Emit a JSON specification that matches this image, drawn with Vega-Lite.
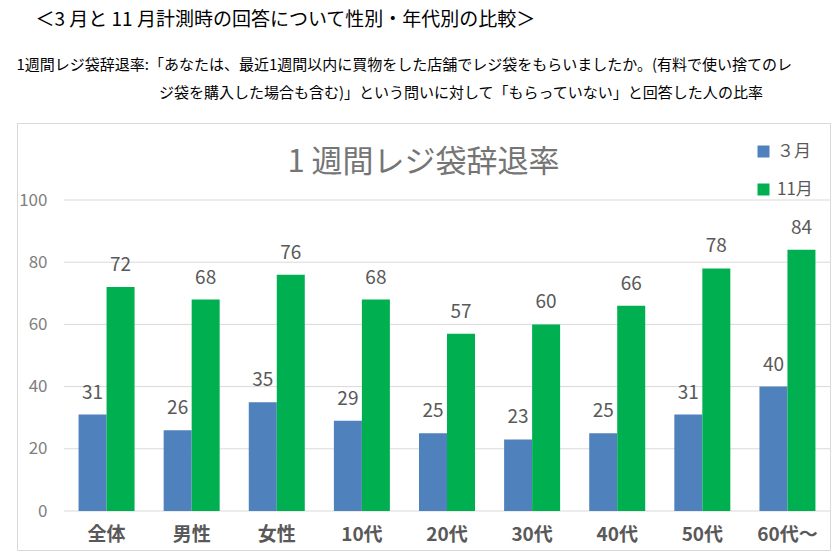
{
  "$schema": "https://vega.github.io/schema/vega-lite/v6.json",
  "padding": {"left": 16, "top": 10, "right": 9, "bottom": 10},
  "background": "white",
  "config": {
    "font": "Noto Sans CJK JP",
    "view": {"stroke": "#d9d9d9", "strokeWidth": 1}
  },
  "datasets": {
    "bars": [
      {"cat": "全体", "month": "３月", "value": 31},
      {"cat": "全体", "month": "11月", "value": 72},
      {"cat": "男性", "month": "３月", "value": 26},
      {"cat": "男性", "month": "11月", "value": 68},
      {"cat": "女性", "month": "３月", "value": 35},
      {"cat": "女性", "month": "11月", "value": 76},
      {"cat": "10代", "month": "３月", "value": 29},
      {"cat": "10代", "month": "11月", "value": 68},
      {"cat": "20代", "month": "３月", "value": 25},
      {"cat": "20代", "month": "11月", "value": 57},
      {"cat": "30代", "month": "３月", "value": 23},
      {"cat": "30代", "month": "11月", "value": 60},
      {"cat": "40代", "month": "３月", "value": 25},
      {"cat": "40代", "month": "11月", "value": 66},
      {"cat": "50代", "month": "３月", "value": 31},
      {"cat": "50代", "month": "11月", "value": 78},
      {"cat": "60代～", "month": "３月", "value": 40},
      {"cat": "60代～", "month": "11月", "value": 84}
    ],
    "grid": [
      {"tick": 0}, {"tick": 20}, {"tick": 40}, {"tick": 60}, {"tick": 80}, {"tick": 100}
    ]
  },
  "title": {
    "text": "\u200b\u2002\u2002＜3 月と 11 月計測時の回答について性別・年代別の比較＞",
    "subtitle": [
      "1週間レジ袋辞退率:「あなたは、最近1週間以内に買物をした店舗でレジ袋をもらいましたか。(有料で使い捨てのレ",
      "\u200b\u3000\u3000\u3000\u3000\u3000\u3000\u3000\u3000\u3000\u2002ジ袋を購入した場合も含む)」という問いに対して「もらっていない」と回答した人の比率"
    ],
    "anchor": "start",
    "fontSize": 19,
    "fontWeight": "normal",
    "color": "#000000",
    "subtitleFontSize": 15,
    "subtitleColor": "#000000",
    "subtitleLineHeight": 28,
    "subtitlePadding": 28,
    "offset": 22
  },
  "vconcat": [
    {
      "width": 813,
      "height": 427,
      "title": {
        "text": "1 週間レジ袋辞退率",
        "fontSize": 31,
        "fontWeight": "normal",
        "color": "#757575",
        "anchor": "middle",
        "offset": -56
      },
      "layer": [
        {
          "data": {"name": "grid"},
          "mark": {"type": "rule", "color": "#d9d9d9", "strokeWidth": 1},
          "encoding": {
            "x": {"datum": "全体", "type": "nominal", "bandPosition": -0.26},
            "x2": {"datum": "60代～", "bandPosition": 1.26},
            "y": {"field": "tick", "type": "quantitative"}
          }
        },
        {
          "data": {"name": "bars"},
          "mark": {"type": "bar"},
          "encoding": {
            "x": {"field": "cat", "type": "nominal"},
            "xOffset": {
              "field": "month",
              "type": "nominal",
              "sort": ["３月", "11月"],
              "scale": {"paddingInner": 0, "paddingOuter": 0}
            },
            "y": {"field": "value", "type": "quantitative"},
            "y2": {"datum": 0},
            "color": {
              "field": "month",
              "type": "nominal",
              "scale": {"domain": ["３月", "11月"], "range": ["#4F81BD", "#00B050"]},
              "legend": {
                "title": null,
                "orient": "none",
                "legendX": 738,
                "legendY": 20,
                "direction": "vertical",
                "symbolType": "square",
                "symbolSize": 144,
                "symbolStrokeWidth": 0,
                "labelFontSize": 17,
                "labelColor": "#595959",
                "labelOffset": 5,
                "rowPadding": 20,
                "padding": 0
              }
            }
          }
        },
        {
          "data": {"name": "bars"},
          "mark": {"type": "text", "baseline": "alphabetic", "dy": -16, "fontSize": 19, "color": "#595959"},
          "encoding": {
            "x": {"field": "cat", "type": "nominal"},
            "xOffset": {
              "field": "month",
              "type": "nominal",
              "sort": ["３月", "11月"],
              "scale": {"paddingInner": 0, "paddingOuter": 0}
            },
            "y": {"field": "value", "type": "quantitative"},
            "text": {"field": "value", "type": "quantitative"}
          }
        }
      ],
      "encoding": {
        "x": {
          "field": "cat",
          "type": "nominal",
          "sort": ["全体", "男性", "女性", "10代", "20代", "30代", "40代", "50代", "60代～"],
          "scale": {
            "domain": ["全体", "男性", "女性", "10代", "20代", "30代", "40代", "50代", "60代～"],
            "range": [47, 813],
            "paddingInner": 0.342,
            "paddingOuter": 0.171
          },
          "axis": {
            "title": null,
            "orient": "bottom",
            "offset": -39,
            "labelAngle": 0,
            "labelPadding": 14,
            "labelFontSize": 19,
            "labelFontWeight": "bold",
            "labelColor": "#595959",
            "domain": false,
            "ticks": false,
            "grid": false
          }
        },
        "y": {
          "field": "value",
          "type": "quantitative",
          "scale": {"domain": [-12.54, 124.76], "nice": false, "zero": false},
          "axis": {
            "title": null,
            "values": [0, 20, 40, 60, 80, 100],
            "offset": -47,
            "labelPadding": 17,
            "labelFontSize": 17,
            "labelColor": "#7f7f7f",
            "domain": false,
            "ticks": false,
            "grid": false
          }
        }
      }
    }
  ]
}
